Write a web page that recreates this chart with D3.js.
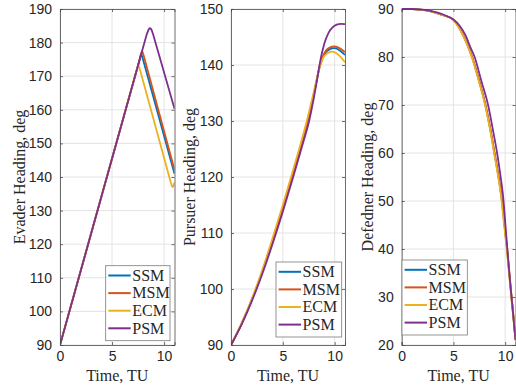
<!DOCTYPE html>
<html>
<head>
<meta charset="utf-8">
<script src="https://cdn.jsdelivr.net/npm/d3@7/dist/d3.min.js"></script>
<style>
  html, body { margin: 0; padding: 0; background: #fff; }
  svg { display: block; }
</style>
</head>
<body>
<svg id="chart" width="516" height="392"></svg>
<script>
// ---------------- data ----------------
const seriesNames = ["SSM", "MSM", "ECM", "PSM"];
const seriesColors = ["#0072BD", "#D95319", "#EDB120", "#7E2F8E"];
const timeTicks = [0, 5, 10];
const timeDomain = [0, 11];

const evaderTicks = [90, 100, 110, 120, 130, 140, 150, 160, 170, 180, 190];
const pursuerTicks = [90, 100, 110, 120, 130, 140, 150];
const defenderTicks = [20, 30, 40, 50, 60, 70, 80, 90];

// Evader heading [time, deg]
const evaderSSM = [[0, 90], [7.62, 174.6], [7.72, 175.9], [7.78, 176.5], [7.85, 176.3], [7.95, 175.3], [11, 141.0]];
const evaderMSM = [[0, 90], [7.7, 175.5], [7.8, 176.9], [7.87, 177.4], [7.94, 177.1], [8.05, 176.0], [11, 142.1]];
const evaderECM = [[0, 90], [7.35, 171.6], [7.45, 172.6], [7.53, 173.1], [7.6, 172.8], [7.7, 171.8], [10.65, 138.3], [10.75, 137.3], [10.82, 137.0], [10.9, 137.3], [11, 138.4]];
const evaderPSM = [[0, 90], [8.2, 181.0], [8.35, 182.6], [8.5, 183.8], [8.62, 184.3], [8.72, 184.2], [8.82, 183.6], [8.95, 182.4], [11, 160.3]];

// Pursuer heading [time, deg]
const pursuerSSM = [[0, 90], [1, 93.7], [2, 98.0], [3, 103.0], [4, 108.5], [5, 114.4], [6, 120.6], [7, 127.1], [7.5, 130.6], [8, 134.8], [8.6, 140.0], [9.0, 141.9], [9.5, 142.8], [10.0, 143.0], [10.5, 142.6], [11, 141.8]];
const pursuerMSM = [[0, 90], [1, 93.7], [2, 98.0], [3, 103.0], [4, 108.5], [5, 114.4], [6, 120.6], [7, 127.1], [7.5, 130.6], [8, 134.8], [8.6, 140.1], [9.0, 142.1], [9.5, 143.1], [10.0, 143.3], [10.5, 143.0], [11, 142.3]];
const pursuerECM = [[0, 90], [1, 93.8], [2, 98.2], [3, 103.3], [4, 109.0], [5, 115.0], [6, 121.3], [7, 127.8], [7.5, 131.4], [8, 135.3], [8.5, 139.2], [8.9, 141.3], [9.3, 142.1], [9.7, 142.4], [10.1, 142.2], [10.5, 141.6], [11, 140.5]];
const pursuerPSM = [[0, 90], [1, 93.6], [2, 97.8], [3, 102.6], [4, 108.0], [5, 113.8], [6, 120.0], [7, 126.4], [7.5, 129.7], [8, 134.2], [8.3, 137.3], [8.6, 140.6], [9.0, 143.8], [9.4, 145.7], [9.8, 146.7], [10.2, 147.2], [10.6, 147.35], [11, 147.3]];

// Defender heading [time, deg]
const defenderSSM = [[0, 90], [1, 89.98], [2, 89.8], [3, 89.4], [4, 88.7], [4.86, 88.0], [5.52, 86.2], [6.22, 83.2], [6.8, 80], [7.48, 75], [8.09, 70], [8.56, 65], [8.96, 60], [9.28, 56], [9.63, 51], [9.93, 45], [10.18, 40], [10.52, 32], [10.77, 26.5], [11, 21.2]];
const defenderMSM = [[0, 90], [1, 89.98], [2, 89.8], [3, 89.4], [4, 88.7], [4.87, 88.0], [5.53, 86.2], [6.23, 83.2], [6.81, 80], [7.5, 75], [8.1, 70], [8.57, 65], [8.98, 60], [9.3, 56], [9.65, 51], [9.95, 45], [10.2, 40], [10.54, 32], [10.79, 26.5], [11, 21.0]];
const defenderECM = [[0, 90], [1, 89.98], [2, 89.8], [3, 89.4], [4, 88.7], [4.84, 88.0], [5.5, 86.2], [6.2, 83.2], [6.77, 80], [7.45, 75], [8.06, 70], [8.53, 65], [8.93, 60], [9.25, 56], [9.6, 51], [9.9, 45], [10.15, 40], [10.5, 32], [10.75, 26.5], [11, 21.2]];
const defenderPSM = [[0, 90], [1, 90], [2, 89.85], [3, 89.5], [3.7, 89.1], [4.4, 88.5], [5.0, 87.8], [5.6, 86.5], [6.2, 84.4], [6.6, 82.2], [7.05, 80], [7.7, 75], [8.35, 70], [8.8, 65], [9.22, 60], [9.5, 56], [9.8, 51], [10.1, 43], [10.4, 35], [10.7, 28], [11, 21.0]];

// ---------------- drawing ----------------
const svg = d3.select("#chart");
const yTop = 9, yBottom = 345;
const tickFont = "'Liberation Sans', Arial, Helvetica, sans-serif";
const serifFont = "'Liberation Serif', 'Times New Roman', serif";
const axisColor = "#4a4a4a";
const textColor = "#262626";
const gridColor = "#e4e4e4";

const panels = [
  { x0: 60, x1: 174.5, yDomain: [90, 190], yTicks: evaderTicks, label: "Evader Heading, deg", labelX: 25,
    curve: d3.curveLinear,
    series: [evaderSSM, evaderMSM, evaderECM, evaderPSM], legend: { x: 105.7, y: 265.7, w: 64.3, h: 75 } },
  { x0: 231, x1: 345, yDomain: [90, 150], yTicks: pursuerTicks, label: "Pursuer Heading, deg", labelX: 195,
    curve: d3.curveMonotoneX,
    series: [pursuerSSM, pursuerMSM, pursuerECM, pursuerPSM], legend: { x: 276, y: 262, w: 65.7, h: 75 } },
  { x0: 401.7, x1: 515.5, yDomain: [20, 90], yTicks: defenderTicks, label: "Defedner Heading, deg", labelX: 373,
    curve: d3.curveMonotoneX,
    series: [defenderSSM, defenderMSM, defenderECM, defenderPSM], legend: { x: 402, y: 260, w: 65.3, h: 75 } }
];

panels.forEach((p, pi) => {
  const x = d3.scaleLinear().domain(timeDomain).range([p.x0, p.x1]);
  const y = d3.scaleLinear().domain(p.yDomain).range([yBottom, yTop]);
  const g = svg.append("g");

  // grid
  g.append("g").selectAll("line").data(timeTicks).join("line")
    .attr("x1", d => x(d)).attr("x2", d => x(d)).attr("y1", yTop).attr("y2", yBottom)
    .attr("stroke", gridColor).attr("stroke-width", 1);
  g.append("g").selectAll("line").data(p.yTicks).join("line")
    .attr("x1", p.x0).attr("x2", p.x1).attr("y1", d => y(d)).attr("y2", d => y(d))
    .attr("stroke", gridColor).attr("stroke-width", 1);

  // data lines
  const clipId = "clip" + pi;
  svg.append("defs").append("clipPath").attr("id", clipId)
    .append("rect").attr("x", p.x0).attr("y", yTop - 2).attr("width", p.x1 - p.x0).attr("height", yBottom - yTop + 4);
  const line = d3.line().x(d => x(d[0])).y(d => y(d[1])).curve(p.curve);
  const lg = g.append("g").attr("clip-path", `url(#${clipId})`);
  p.series.forEach((s, i) => {
    lg.append("path").datum(s).attr("d", line)
      .attr("fill", "none").attr("stroke", seriesColors[i])
      .attr("stroke-width", 1.8).attr("stroke-linejoin", "round");
  });

  // axes (box with inward ticks)
  const axB = d3.axisBottom(x).tickValues(timeTicks).tickSize(-3).tickPadding(6).tickFormat(d3.format("d"));
  const axT = d3.axisTop(x).tickValues(timeTicks).tickSize(-3).tickFormat("");
  const axL = d3.axisLeft(y).tickValues(p.yTicks).tickSize(-3).tickPadding(8).tickFormat(d3.format("d"));
  const axR = d3.axisRight(y).tickValues(p.yTicks).tickSize(-3).tickFormat("");
  const gb = g.append("g").attr("transform", `translate(0,${yBottom})`).call(axB);
  const gt = g.append("g").attr("transform", `translate(0,${yTop})`).call(axT);
  const gl = g.append("g").attr("transform", `translate(${p.x0},0)`).call(axL);
  const gr = g.append("g").attr("transform", `translate(${p.x1},0)`).call(axR);
  [gb, gt, gl, gr].forEach(a => {
    a.select(".domain").attr("stroke", axisColor).attr("stroke-width", 0.8);
    a.selectAll(".tick line").attr("stroke", axisColor).attr("stroke-width", 0.8);
    a.selectAll("text").attr("fill", textColor).style("font-family", tickFont).style("font-size", "14px");
  });
  gb.selectAll("text").attr("dy", "0.71em");

  // axis labels
  g.append("text").text("Time, TU")
    .attr("x", (p.x0 + p.x1) / 2).attr("y", 381)
    .attr("text-anchor", "middle").attr("fill", textColor)
    .style("font-family", serifFont).style("font-size", "16px");
  g.append("text").text(p.label)
    .attr("transform", `translate(${p.labelX},${(yTop + yBottom) / 2}) rotate(-90)`)
    .attr("text-anchor", "middle").attr("fill", textColor)
    .style("font-family", serifFont).style("font-size", "16px");

  // legend
  const L = p.legend;
  const leg = g.append("g");
  leg.append("rect").attr("x", L.x).attr("y", L.y).attr("width", L.w).attr("height", L.h)
    .attr("fill", "#fff").attr("stroke", "#7a7a7a").attr("stroke-width", 0.8);
  seriesNames.forEach((name, i) => {
    const cy = L.y + 9.8 + i * 17.6;
    leg.append("line").attr("x1", L.x + 2.6).attr("x2", L.x + 25).attr("y1", cy).attr("y2", cy)
      .attr("stroke", seriesColors[i]).attr("stroke-width", 2);
    leg.append("text").text(name).attr("x", L.x + 26.6).attr("y", cy).attr("dy", "0.33em")
      .attr("fill", textColor).style("font-family", serifFont).style("font-size", "16px");
  });
});
</script>
</body>
</html>
